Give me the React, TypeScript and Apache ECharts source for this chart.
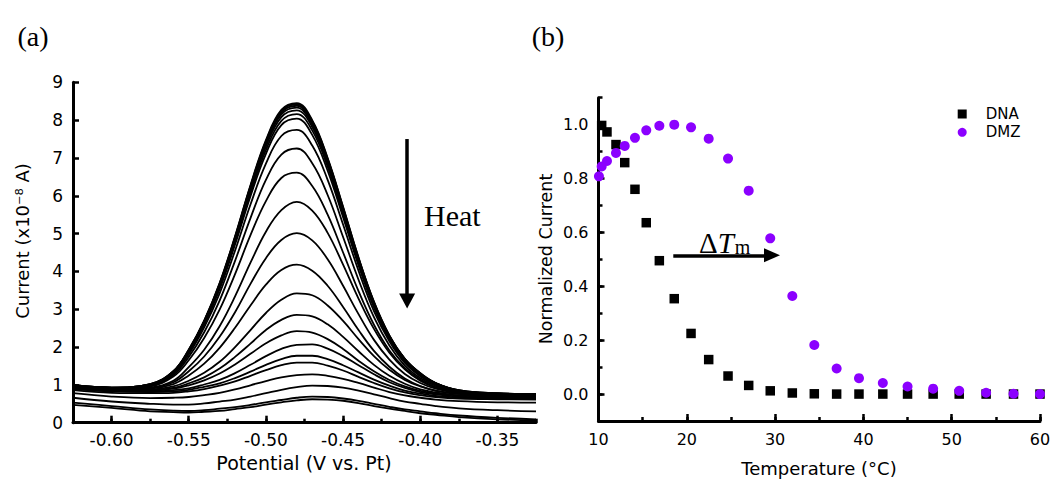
import React, { useEffect, useRef } from 'react';
import * as echarts from 'echarts';

// ---------- Panel (a): square-wave voltammograms ----------
const potentials = [-0.625, -0.6, -0.575, -0.56, -0.55, -0.54, -0.53, -0.52, -0.51, -0.5, -0.49, -0.48, -0.47, -0.46, -0.45, -0.44, -0.43, -0.42, -0.41, -0.4, -0.39, -0.375, -0.35, -0.325];

const curve01 = [1.00, 0.93, 1.02, 1.36, 1.93, 2.70, 3.69, 4.93, 6.28, 7.47, 8.27, 8.45, 8.00, 7.00, 5.71, 4.37, 3.20, 2.31, 1.69, 1.31, 1.05, 0.86, 0.78, 0.76];
const curve02 = [1.00, 0.93, 1.02, 1.36, 1.93, 2.69, 3.68, 4.91, 6.26, 7.44, 8.24, 8.42, 7.97, 6.98, 5.69, 4.36, 3.19, 2.30, 1.69, 1.31, 1.05, 0.86, 0.78, 0.76];
const curve03 = [0.99, 0.93, 1.01, 1.35, 1.91, 2.68, 3.66, 4.89, 6.23, 7.41, 8.20, 8.38, 7.93, 6.95, 5.66, 4.33, 3.17, 2.29, 1.68, 1.29, 1.04, 0.85, 0.77, 0.75];
const curve04 = [0.99, 0.93, 1.01, 1.35, 1.90, 2.67, 3.64, 4.86, 6.19, 7.37, 8.15, 8.33, 7.88, 6.91, 5.63, 4.31, 3.15, 2.28, 1.67, 1.29, 1.04, 0.85, 0.77, 0.75];
const curve05 = [0.98, 0.92, 1.00, 1.34, 1.89, 2.65, 3.61, 4.83, 6.14, 7.30, 8.08, 8.26, 7.82, 6.85, 5.57, 4.27, 3.13, 2.26, 1.65, 1.27, 1.02, 0.84, 0.76, 0.74];
const curve06 = [0.98, 0.92, 1.00, 1.33, 1.88, 2.63, 3.57, 4.78, 6.07, 7.21, 7.98, 8.16, 7.73, 6.77, 5.51, 4.22, 3.10, 2.24, 1.64, 1.26, 1.02, 0.84, 0.76, 0.74];
const curve07 = [0.97, 0.91, 0.99, 1.32, 1.86, 2.59, 3.53, 4.71, 5.99, 7.11, 7.87, 8.04, 7.61, 6.66, 5.43, 4.16, 3.05, 2.21, 1.62, 1.25, 1.01, 0.83, 0.75, 0.73];
const curve08 = [0.97, 0.91, 0.99, 1.30, 1.81, 2.52, 3.42, 4.55, 5.77, 6.85, 7.58, 7.74, 7.33, 6.42, 5.24, 4.02, 2.95, 2.15, 1.58, 1.23, 1.00, 0.83, 0.74, 0.73];
const curve09 = [0.96, 0.90, 0.97, 1.26, 1.74, 2.39, 3.23, 4.28, 5.41, 6.42, 7.09, 7.25, 6.86, 6.02, 4.91, 3.78, 2.79, 2.04, 1.51, 1.18, 0.97, 0.81, 0.73, 0.72];
const curve10 = [0.96, 0.90, 0.96, 1.22, 1.65, 2.24, 2.99, 3.93, 4.96, 5.86, 6.47, 6.61, 6.26, 5.50, 4.50, 3.48, 2.59, 1.91, 1.44, 1.14, 0.94, 0.80, 0.73, 0.72];
const curve11 = [0.95, 0.89, 0.93, 1.11, 1.47, 1.93, 2.55, 3.34, 4.23, 5.05, 5.62, 5.84, 5.61, 5.02, 4.18, 3.28, 2.48, 1.85, 1.41, 1.11, 0.93, 0.79, 0.72, 0.71];
const curve12 = [0.95, 0.89, 0.92, 1.07, 1.36, 1.75, 2.27, 2.92, 3.67, 4.35, 4.83, 5.01, 4.82, 4.32, 3.62, 2.87, 2.19, 1.67, 1.29, 1.05, 0.90, 0.78, 0.72, 0.71];
const curve13 = [0.94, 0.88, 0.90, 1.02, 1.25, 1.56, 1.98, 2.51, 3.10, 3.65, 4.04, 4.18, 4.02, 3.62, 3.06, 2.45, 1.90, 1.48, 1.17, 0.97, 0.85, 0.76, 0.71, 0.70];
const curve14 = [0.94, 0.88, 0.88, 0.96, 1.11, 1.32, 1.61, 2.00, 2.45, 2.90, 3.25, 3.42, 3.37, 3.10, 2.69, 2.21, 1.76, 1.40, 1.13, 0.96, 0.84, 0.76, 0.71, 0.70];
const curve15 = [0.92, 0.86, 0.86, 0.92, 1.04, 1.20, 1.43, 1.74, 2.09, 2.45, 2.72, 2.85, 2.81, 2.60, 2.27, 1.89, 1.53, 1.24, 1.03, 0.88, 0.80, 0.72, 0.69, 0.68];
const curve16 = [0.92, 0.86, 0.85, 0.90, 0.99, 1.12, 1.30, 1.54, 1.82, 2.10, 2.31, 2.42, 2.38, 2.21, 1.95, 1.64, 1.36, 1.13, 0.96, 0.84, 0.77, 0.72, 0.69, 0.68];
const curve17 = [0.90, 0.84, 0.83, 0.86, 0.91, 1.01, 1.13, 1.31, 1.53, 1.76, 1.95, 2.06, 2.07, 1.96, 1.76, 1.52, 1.28, 1.07, 0.92, 0.81, 0.75, 0.69, 0.66, 0.65];
const curve18 = [0.89, 0.83, 0.81, 0.83, 0.87, 0.95, 1.04, 1.18, 1.35, 1.53, 1.68, 1.77, 1.77, 1.68, 1.52, 1.33, 1.14, 0.98, 0.85, 0.77, 0.71, 0.67, 0.64, 0.64];
const curve19 = [0.86, 0.79, 0.78, 0.79, 0.83, 0.89, 0.98, 1.09, 1.24, 1.39, 1.52, 1.59, 1.59, 1.51, 1.38, 1.21, 1.05, 0.91, 0.80, 0.73, 0.68, 0.64, 0.62, 0.61];
const curve20 = [0.78, 0.69, 0.65, 0.66, 0.68, 0.73, 0.79, 0.88, 0.99, 1.10, 1.20, 1.26, 1.28, 1.24, 1.16, 1.05, 0.93, 0.81, 0.72, 0.66, 0.61, 0.57, 0.54, 0.53];
const curve21 = [0.66, 0.56, 0.50, 0.48, 0.48, 0.51, 0.56, 0.61, 0.69, 0.78, 0.87, 0.94, 0.98, 0.97, 0.93, 0.85, 0.75, 0.65, 0.56, 0.50, 0.44, 0.38, 0.33, 0.30];
const curve22 = [0.53, 0.44, 0.35, 0.32, 0.31, 0.33, 0.37, 0.41, 0.47, 0.54, 0.60, 0.66, 0.69, 0.68, 0.64, 0.58, 0.50, 0.42, 0.35, 0.30, 0.25, 0.19, 0.13, 0.09];
const curve23 = [0.47, 0.39, 0.30, 0.28, 0.27, 0.29, 0.31, 0.36, 0.41, 0.48, 0.54, 0.59, 0.62, 0.61, 0.58, 0.52, 0.44, 0.37, 0.31, 0.25, 0.21, 0.15, 0.09, 0.06];

const curves = [curve01, curve02, curve03, curve04, curve05, curve06, curve07, curve08, curve09, curve10, curve11, curve12, curve13, curve14, curve15, curve16, curve17, curve18, curve19, curve20, curve21, curve22, curve23];

// Heat arrow (data coordinates of panel a)
const heatArrowX = -0.4085;
const heatArrowFromY = 7.5;
const heatArrowToY = 3.22;

// ---------- Panel (b): melting curves ----------
const temperatures = [10.05, 10.36, 10.96, 11.98, 12.97, 14.13, 15.41, 16.89, 18.58, 20.48, 22.48, 24.67, 27.01, 29.45, 31.95, 34.44, 36.97, 39.5, 42.2, 45.0, 47.9, 50.85, 53.9, 57.0, 60.0];
const dnaTemperatures = temperatures.slice(1);
const dnaValues = [0.997, 0.973, 0.926, 0.859, 0.760, 0.636, 0.495, 0.354, 0.225, 0.128, 0.067, 0.032, 0.012, 0.004, 0.001, 0.0, 0.0, 0.0, 0.0, 0.0, 0.0, 0.0, 0.0, 0.0];
const dmzValues = [0.808, 0.845, 0.865, 0.895, 0.921, 0.951, 0.979, 0.996, 1.0, 0.99, 0.948, 0.874, 0.755, 0.578, 0.364, 0.182, 0.095, 0.059, 0.041, 0.028, 0.020, 0.012, 0.005, 0.001, 0.0];

// ΔTm arrow (data coordinates of panel b)
const tmArrowY = 0.515;
const tmArrowFrom = 18.47;
const tmArrowTo = 29.65;

const SANS = 'DejaVu Sans';
const SERIF = 'Liberation Serif';
const BLACK = '#000';
const PURPLE = '#8b00ff';

function buildOption() {
  const lineSeries = curves.map((c, i) => ({
    type: 'line',
    xAxisIndex: 0,
    yAxisIndex: 0,
    data: potentials.map((p, j) => [p, c[j]]),
    showSymbol: false,
    smooth: 0.4,
    lineStyle: { color: BLACK, width: 1.8 },
    silent: true,
    z: 2,
    markLine: i === 0 ? {
      silent: true,
      symbol: ['none', 'triangle'],
      symbolSize: [16, 15],
      label: { show: false },
      lineStyle: { color: BLACK, width: 3.5, type: 'solid' },
      data: [[{ coord: [heatArrowX, heatArrowFromY] }, { coord: [heatArrowX, heatArrowToY] }]],
    } : undefined,
  }));

  const axisLineStyle = { color: BLACK, width: 3 };
  const tickStyle = { color: BLACK, width: 2.5 };

  return {
    animation: false,
    backgroundColor: '#fff',
    grid: [
      { left: 73, top: 82.3, width: 463, height: 340.4 },
      { left: 598.5, top: 97.7, width: 441.5, height: 323.3 },
    ],
    xAxis: [
      {
        gridIndex: 0, type: 'value', position: 'bottom', min: -0.625, max: -0.325, splitNumber: 6,
        axisLine: { show: true, onZero: false, lineStyle: axisLineStyle },
        axisTick: { show: true, inside: true, length: 7, lineStyle: tickStyle },
        axisLabel: {
          formatter: (v: number) => v.toFixed(2), showMinLabel: false, showMaxLabel: false,
          fontSize: 17, color: BLACK, fontFamily: SANS, margin: 9,
        },
        splitLine: { show: false },
      },
      {
        gridIndex: 0, type: 'value', position: 'bottom', min: -0.625, max: -0.325, interval: 0.025,
        axisLine: { show: false, onZero: false },
        axisTick: { show: true, inside: true, length: 4, lineStyle: tickStyle },
        axisLabel: { show: false },
        splitLine: { show: false },
      },
      {
        gridIndex: 1, type: 'value', position: 'bottom', min: 10, max: 60, interval: 10,
        axisLine: { show: true, onZero: false, lineStyle: axisLineStyle },
        axisTick: { show: true, inside: true, length: 7, lineStyle: tickStyle },
        axisLabel: { fontSize: 16, color: BLACK, fontFamily: SANS, margin: 10 },
        splitLine: { show: false },
      },
      {
        gridIndex: 1, type: 'value', position: 'bottom', min: 10, max: 60, interval: 5,
        axisLine: { show: false, onZero: false },
        axisTick: { show: true, inside: true, length: 4, lineStyle: tickStyle },
        axisLabel: { show: false },
        splitLine: { show: false },
      },
    ],
    yAxis: [
      {
        gridIndex: 0, type: 'value', position: 'left', min: 0, max: 9, interval: 1,
        axisLine: { show: true, onZero: false, lineStyle: axisLineStyle },
        axisTick: { show: true, inside: true, length: 6, lineStyle: tickStyle },
        axisLabel: { fontSize: 17, color: BLACK, fontFamily: SANS, margin: 10 },
        splitLine: { show: false },
      },
      {
        gridIndex: 1, type: 'value', position: 'left', min: -0.1, max: 1.1, splitNumber: 6,
        axisLine: { show: true, onZero: false, lineStyle: axisLineStyle },
        axisTick: { show: true, inside: true, length: 6, lineStyle: tickStyle },
        axisLabel: {
          formatter: (v: number) => v.toFixed(1), showMinLabel: false, showMaxLabel: false,
          fontSize: 16, color: BLACK, fontFamily: SANS, margin: 10,
        },
        splitLine: { show: false },
      },
      {
        gridIndex: 1, type: 'value', position: 'left', min: -0.1, max: 1.1, interval: 0.1,
        axisLine: { show: false, onZero: false },
        axisTick: { show: true, inside: true, length: 4, lineStyle: tickStyle },
        axisLabel: { show: false },
        splitLine: { show: false },
      },
    ],
    legend: {
      show: true,
      orient: 'vertical',
      left: 957.7,
      top: 106.5,
      padding: 0,
      itemWidth: 9,
      itemHeight: 9,
      itemGap: 3.3,
      selectedMode: false,
      textStyle: { fontSize: 15, fontFamily: SANS, color: BLACK, lineHeight: 15, padding: [0, 0, 0, 14] },
      data: [
        { name: 'DNA', icon: 'rect', itemStyle: { opacity: 1 } },
        { name: 'DMZ', icon: 'circle', itemStyle: { opacity: 1 } },
      ],
    },
    series: [
      ...lineSeries,
      {
        name: 'DNA',
        type: 'scatter',
        xAxisIndex: 2,
        yAxisIndex: 1,
        symbol: 'rect',
        symbolSize: 9.5,
        itemStyle: { color: BLACK, opacity: 1 },
        data: dnaTemperatures.map((t, i) => [t, dnaValues[i]]),
        z: 3,
        markLine: {
          silent: true,
          symbol: ['none', 'triangle'],
          symbolSize: [14, 16],
          label: { show: false },
          lineStyle: { color: BLACK, width: 3.5, type: 'solid', opacity: 1 },
          data: [[{ coord: [tmArrowFrom, tmArrowY] }, { coord: [tmArrowTo, tmArrowY] }]],
        },
      },
      {
        name: 'DMZ',
        type: 'scatter',
        xAxisIndex: 2,
        yAxisIndex: 1,
        symbol: 'circle',
        symbolSize: 10,
        itemStyle: { color: PURPLE, opacity: 1 },
        data: temperatures.map((t, i) => [t, dmzValues[i]]),
        z: 4,
      },
    ],
    graphic: [
      { type: 'text', x: 33, y: 36, style: { text: '(a)', font: `28px "${SERIF}"`, fill: BLACK, textAlign: 'center', textVerticalAlign: 'middle', align: 'center', verticalAlign: 'middle' } },
      { type: 'text', x: 548, y: 36, style: { text: '(b)', font: `28px "${SERIF}"`, fill: BLACK, textAlign: 'center', textVerticalAlign: 'middle', align: 'center', verticalAlign: 'middle' } },
      { type: 'text', x: 424, y: 215, style: { text: 'Heat', font: `30px "${SERIF}"`, fill: BLACK, textAlign: 'left', textVerticalAlign: 'middle', align: 'left', verticalAlign: 'middle' } },
      {
        type: 'text', x: 22, y: 241, rotation: Math.PI / 2,
        style: { text: 'Current (x10⁻⁸ A)', font: `18px "${SANS}"`, fill: BLACK, textAlign: 'center', textVerticalAlign: 'middle', align: 'center', verticalAlign: 'middle' },
      },
      { type: 'text', x: 304, y: 463, style: { text: 'Potential (V vs. Pt)', font: `19px "${SANS}"`, fill: BLACK, textAlign: 'center', textVerticalAlign: 'middle', align: 'center', verticalAlign: 'middle' } },
      {
        type: 'text', x: 546, y: 259, rotation: Math.PI / 2,
        style: { text: 'Normalized Current', font: `17.5px "${SANS}"`, fill: BLACK, textAlign: 'center', textVerticalAlign: 'middle', align: 'center', verticalAlign: 'middle' },
      },
      { type: 'text', x: 819, y: 468, style: { text: 'Temperature (°C)', font: `18px "${SANS}"`, fill: BLACK, textAlign: 'center', textVerticalAlign: 'middle', align: 'center', verticalAlign: 'middle' } },
      {
        type: 'text', x: 699, y: 243,
        style: {
          text: '{d|Δ}{t|T}{m|m}',
          textAlign: 'left', textVerticalAlign: 'middle', align: 'left', verticalAlign: 'middle',
          rich: {
            d: { fontFamily: SERIF, fontSize: 29, fill: BLACK, color: BLACK },
            t: { fontFamily: SERIF, fontSize: 29, fontStyle: 'italic', fill: BLACK, color: BLACK },
            m: { fontFamily: SERIF, fontSize: 20, fill: BLACK, color: BLACK, padding: [8, 0, 0, 1] },
          },
        },
      },
    ],
  };
}

export default function App() {
  const ref = useRef<HTMLDivElement>(null);
  useEffect(() => {
    if (!ref.current) return;
    const chart = echarts.init(ref.current, undefined, { renderer: 'svg' });
    chart.setOption(buildOption() as any);
    return () => chart.dispose();
  }, []);
  return (
    <div
      ref={ref}
      style={{ position: 'absolute', left: 0, top: 0, width: 1054, height: 479, background: '#fff' }}
    />
  );
}
